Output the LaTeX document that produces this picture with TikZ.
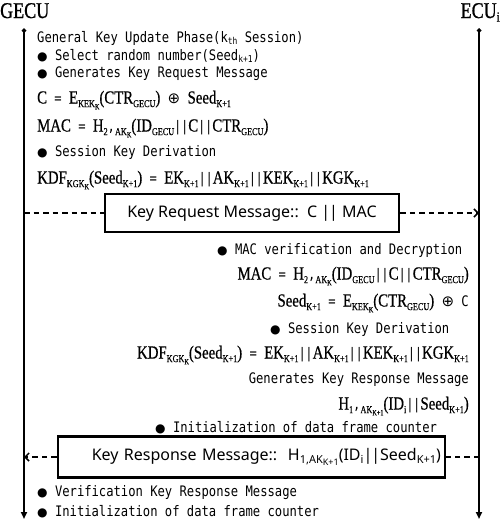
\documentclass[tikz,border=0pt]{standalone}
\usepackage{fontspec}
\usetikzlibrary{arrows.meta}
\newfontfamily\monof[FakeStretch=0.84]{DejaVu Sans Mono}
\newfontfamily\serf[FakeStretch=0.8,FakeBold=0.6]{Liberation Serif}
\newfontfamily\subf[FakeStretch=0.78,FakeBold=0.4]{Liberation Serif}
\newfontfamily\titlef[FakeStretch=0.8,FakeBold=0.8]{Liberation Serif}
\newfontfamily\sansf{Noto Sans}
\newfontfamily\symf{DejaVu Sans}
% mono subscript
\newcommand{\lo}[1]{\raisebox{-0.35ex}{\fontsize{9.5}{9.5}\selectfont #1}}
% serif subscripts
\newcommand{\slo}[1]{\raisebox{-0.45ex}{\subf\fontsize{10.5}{10.5}\selectfont #1}}
\newcommand{\sllo}[1]{\raisebox{-0.45ex}{\subf\fontsize{8}{8}\selectfont #1}}
\newcommand{\bul}{{\symf\fontsize{12}{12}\selectfont ●}}
\newcommand{\Sr}[1]{{\serf\fontsize{18.5}{18.5}\selectfont #1}}
\newcommand{\xor}{{\symf\fontsize{15}{15}\selectfont ⊕}}
\newcommand{\bars}{|\kern-0.5pt|}
\begin{document}
\begin{tikzpicture}[x=1pt,y=-1pt,
  txt/.style={font=\monof\fontsize{14.5}{16}\selectfont, inner sep=0pt, anchor=west},
  rtxt/.style={txt, anchor=east},
  life/.style={line width=1.8pt, {Diamond[length=5pt,width=5pt]}-{Triangle[length=7pt,width=6pt]}},
  msg/.style={line width=1.5pt, dash pattern=on 5.5pt off 4pt},
  tip/.style={-{Straight Barb[length=4pt,width=8pt,line width=1.5pt]}},
  msgbox/.style={draw, line width=2.6pt, inner sep=0pt, font=\sansf\fontsize{16}{18}\selectfont}
]
\useasboundingbox (0,0) rectangle (500,522);
% actors
\node[inner sep=0pt, anchor=base west, font=\titlef\fontsize{22.5}{22.5}\selectfont] (gecu) at (0,18) {GECU};
\node[inner sep=0pt, anchor=base east, font=\titlef\fontsize{22.5}{22.5}\selectfont] (ecu) at (500,18) {ECU\raisebox{-0.35ex}{\fontsize{14}{14}\selectfont i}};
% lifelines
\coordinate (Ltop) at (24,28);
\coordinate (Lbot) at (24,519);
\coordinate (Rtop) at (479,28);
\coordinate (Rbot) at (479,519);
\draw[life] (Ltop) -- (Lbot);
\draw[life] (Rtop) -- (Rbot);
% GECU side
\node[txt] (t1) at (37,38) {General Key Update Phase(k\lo{th} Session)};
\node[txt] (t2) at (37,56) {\bul\ Select random number(Seed\lo{k+1})};
\node[txt] (t3) at (37,74) {\bul\ Generates Key Request Message};
\node[txt] (t4) at (37,100) {\Sr{C} = \Sr{E}\slo{KEK\sllo{K}}\Sr{(CTR}\slo{GECU}\Sr{)} \xor\ \Sr{Seed}\slo{K+1}};
\node[txt] (t5) at (37,128) {\Sr{MAC} = \Sr{H}\slo{2},\slo{AK\sllo{K}}\Sr{(ID}\slo{GECU}\bars\Sr{C}\bars\Sr{CTR}\slo{GECU}\Sr{)}};
\node[txt] (t6) at (37,152) {\bul\ Session Key Derivation};
\node[txt] (t7) at (37,180) {\Sr{KDF}\slo{KGK\sllo{K}}\Sr{(Seed}\slo{K+1}\Sr{)} = \Sr{EK}\slo{K+1}\bars\Sr{AK}\slo{K+1}\bars\Sr{KEK}\slo{K+1}\bars\Sr{KGK}\slo{K+1}};
% request message
\node[msgbox, minimum width=294pt, minimum height=38pt] (req) at (252,213) {Key Request Message::\ \ C |\kern-1pt| MAC};
\coordinate (reqL) at (24,213);
\coordinate (reqR) at (479,213);
\draw[msg] (reqL) -- (req.west);
\draw[msg,tip] (req.east) -- (reqR);
% ECU side
\node[txt] (u1) at (217,250) {\bul\ MAC verification and Decryption};
\node[rtxt] (u2) at (469,276) {\Sr{MAC} = \Sr{H}\slo{2},\slo{AK\sllo{K}}\Sr{(ID}\slo{GECU}\bars\Sr{C}\bars\Sr{CTR}\slo{GECU}\Sr{)}};
\node[rtxt] (u3) at (469,303) {\Sr{Seed}\slo{K+1} = \Sr{E}\slo{KEK\sllo{K}}\Sr{(CTR}\slo{GECU}\Sr{)} \xor\ C};
\node[txt] (u4) at (270,329) {\bul\ Session Key Derivation};
\node[rtxt] (u5) at (469,355) {\Sr{KDF}\slo{KGK\sllo{K}}\Sr{(Seed}\slo{K+1}\Sr{)} = \Sr{EK}\slo{K+1}\bars\Sr{AK}\slo{K+1}\bars\Sr{KEK}\slo{K+1}\bars\Sr{KGK}\slo{K+1}};
\node[rtxt] (u6) at (469,380) {Generates Key Response Message};
\node[rtxt] (u7) at (469,406) {\Sr{H}\slo{1},\slo{AK\sllo{K+1}}\Sr{(ID}\slo{i}\bars\Sr{Seed}\slo{K+1}\Sr{)}};
\node[txt] (u8) at (155,428) {\bul\ Initialization of data frame counter};
% response message
\node[msgbox, minimum width=387pt, minimum height=41pt, text width=379pt, align=right] (resp) at (251.5,457) {Key Response Message::\ \ H\raisebox{-0.4ex}{\fontsize{11}{11}\selectfont 1,AK\raisebox{-0.4ex}{\fontsize{9}{9}\selectfont K+1}}(ID\raisebox{-0.4ex}{\fontsize{11}{11}\selectfont i}|\kern-1pt|Seed\raisebox{-0.4ex}{\fontsize{11}{11}\selectfont K+1})};
\coordinate (respL) at (24,457);
\coordinate (respR) at (479,457);
\draw[msg] (respR) -- (resp.east);
\draw[msg,tip] (resp.west) -- (respL);
% GECU final
\node[txt] (v1) at (37,493) {\bul\ Verification Key Response Message};
\node[txt] (v2) at (37,512) {\bul\ Initialization of data frame counter};
\end{tikzpicture}
\end{document}
